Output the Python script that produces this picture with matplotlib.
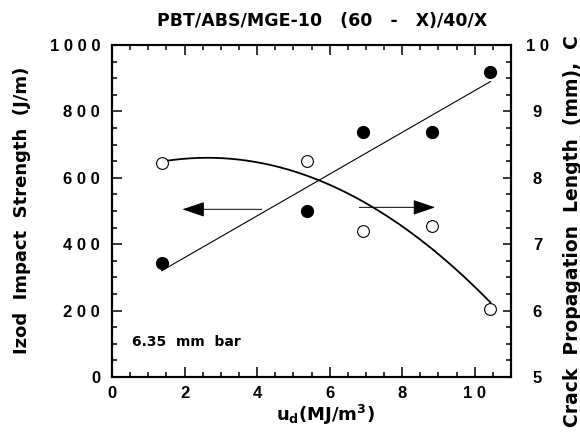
import numpy as np
import matplotlib
matplotlib.use("Agg")
import matplotlib.pyplot as plt
from matplotlib.ticker import MultipleLocator

plt.rcParams['font.family'] = ['Liberation Sans', 'DejaVu Sans']
plt.rcParams['font.weight'] = 'bold'
plt.rcParams['mathtext.fontset'] = 'dejavusans'

# ---- data ----
ud = [1.37, 5.38, 6.91, 8.81, 10.43]
izod = [342, 500, 738, 738, 920]
crack = [8.23, 8.26, 7.20, 7.27, 6.02]

x_ticks = [0, 2, 4, 6, 8, 10]
x_ticklabels = ["0", "2", "4", "6", "8", "1 0"]
left_ticks = [0, 200, 400, 600, 800, 1000]
left_ticklabels = ["0", "2 0 0", "4 0 0", "6 0 0", "8 0 0", "1 0 0 0"]
right_ticks = [5, 6, 7, 8, 9, 10]
right_ticklabels = ["5", "6", "7", "8", "9", "1 0"]

title = "PBT/ABS/MGE-10   (60   -   X)/40/X"
left_label = "Izod  Impact  Strength  (J/m)"
right_label = "Crack  Propagation  Length  (mm),  C"
x_label = r"$\mathbf{u_d(MJ/m^3)}$"
note = "6.35  mm  bar"

wide = ['DejaVu Sans']

# ---- figure ----
fig = plt.figure(figsize=(5.8, 4.32), dpi=100)
L, R, B, T = 112/580, 511/580, (432-377)/432, (432-45)/432
ax = fig.add_axes([L, B, R-L, T-B])
ax2 = ax.twinx()

ax.set_xlim(0, 11)
ax.set_ylim(0, 1000)
ax2.set_ylim(5, 10)

for s in ax.spines.values():
    s.set_linewidth(1.5)
for s in ax2.spines.values():
    s.set_linewidth(1.5)

ax.set_xticks(x_ticks)
ax.set_xticklabels(x_ticklabels, fontsize=12, fontweight='bold')
ax.set_yticks(left_ticks)
ax.set_yticklabels(left_ticklabels, fontsize=12, fontweight='bold')
ax.xaxis.set_minor_locator(MultipleLocator(0.5))
ax.yaxis.set_minor_locator(MultipleLocator(50))
ax.tick_params(axis='x', which='both', direction='in', top=True, bottom=True, width=1.1)
ax.tick_params(axis='x', which='major', length=7.5, pad=6.5)
ax.tick_params(axis='x', which='minor', length=3.7)
ax.tick_params(axis='y', which='both', direction='in', left=True, right=False, width=1.1)
ax.tick_params(axis='y', which='major', length=7.5, pad=8.5)
ax.tick_params(axis='y', which='minor', length=3.7)

ax2.set_yticks(right_ticks)
ax2.set_yticklabels(right_ticklabels, fontsize=12, fontweight='bold')
ax2.yaxis.set_minor_locator(MultipleLocator(0.25))
ax2.tick_params(axis='y', which='both', direction='in', width=1.1)
ax2.tick_params(axis='y', which='major', length=6, pad=19)
ax2.tick_params(axis='y', which='minor', length=3.5)
for lab in ax2.get_yticklabels():
    lab.set_horizontalalignment('center')

# fitted linear line (Izod)
c1 = np.polyfit(ud, izod, 1)
xl = np.array([ud[0], ud[-1]])
ax.plot(xl, np.polyval(c1, xl), color='black', lw=0.8, zorder=2)

# fitted quadratic (crack)
c2 = np.polyfit(ud, crack, 2)
xc = np.linspace(ud[0] + 0.12, ud[-1], 200)
ax2.plot(xc, np.polyval(c2, xc), color='black', lw=1.3, zorder=2)

ax.plot(ud, izod, 'o', color='black', ms=8.5, zorder=3)
ax2.plot(ud, crack, 'o', mfc='white', mec='black', mew=0.8, ms=8.5, zorder=3)

# arrows
ax.annotate('', xy=(1.94, 505), xytext=(4.13, 505),
            arrowprops=dict(arrowstyle='-|>,head_length=1.4,head_width=0.47',
                            color='black', lw=0.7, shrinkA=0, shrinkB=0,
                            mutation_scale=10))
ax.annotate('', xy=(8.91, 511), xytext=(6.82, 511),
            arrowprops=dict(arrowstyle='-|>,head_length=1.4,head_width=0.47',
                            color='black', lw=0.7, shrinkA=0, shrinkB=0,
                            mutation_scale=10))

ax.text(0.56, 106, note, fontsize=10, fontweight='bold', family=wide,
        ha='left', va='center')

fig.text(322/580, 1-21.5/432, title, fontsize=12.5, fontweight='bold', family=wide,
         ha='center', va='center')
fig.text(22/580, 1-210/432, left_label, fontsize=13, fontweight='bold', family=wide,
         rotation=90, ha='center', va='center')
fig.text(572/580, 1-231/432, right_label, fontsize=13.5, fontweight='bold', family=wide,
         rotation=90, ha='center', va='center')
fig.text(325/580, 1-415/432, x_label, fontsize=13, ha='center', va='center')

fig.savefig('out.png', dpi=100)
